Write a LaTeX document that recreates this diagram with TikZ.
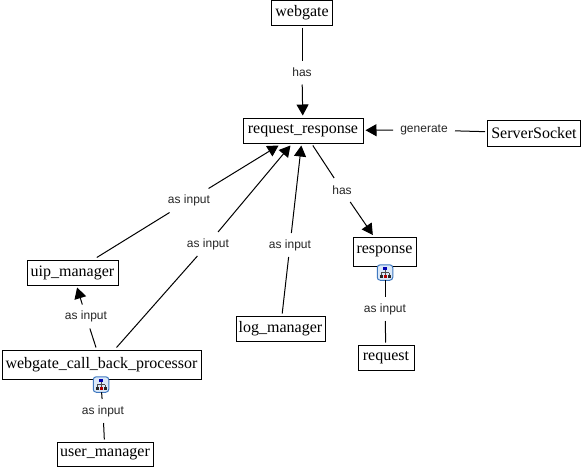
\documentclass[tikz,border=0pt]{standalone}
\usepackage{fontspec}
\setmainfont{Liberation Serif}
\newfontfamily\lblfont{Liberation Sans}
\usetikzlibrary{arrows.meta}
\definecolor{iconedge}{HTML}{3F78C0}
\definecolor{iconfill}{HTML}{DCE9F8}
\tikzset{
 x=1pt,y=-1pt,
 box/.style={draw=black,line width=1pt,fill=white,inner sep=0pt,outer sep=2.5pt,font=\fontsize{16}{18}\selectfont,anchor=center},
 lbl/.style={inner sep=0pt,outer sep=0pt,minimum height=24pt,minimum width=46pt,font=\lblfont\fontsize{12}{14}\selectfont,text=black!85},
 conn/.style={draw=black,line width=1pt},
 arr/.style={conn,-{Triangle[length=11pt,width=12pt]}},
 iconbox/.style={draw=iconedge,fill=iconfill,line width=1pt,rounded corners=3pt,minimum size=15.5pt,inner sep=0pt,outer sep=0pt}
}
\newcommand{\boxnode}[6]{\node[box,minimum width=#4pt,minimum height=#5pt] (#1) at (#2,#3) {\raisebox{-1pt}{#6}};}
\newcommand{\treeicon}[1]{%
 \draw[line width=0.6pt,black!70] (#1.center)++(0,-3) -- ++(0,3) (#1.center)++(-4,0) -- ++(8,0) (#1.center)++(-4,0) -- ++(0,2) (#1.center)++(4,0) -- ++(0,2) (#1.center)++(0,0) -- ++(0,2);
 \fill[blue!70!black] (#1.center)++(-2,-5.5) rectangle ++(4,2.5);
 \fill[red!70!black] (#1.center)++(-1.5,2) rectangle ++(3,3);
 \fill[black!85] (#1.center)++(-5.5,2) rectangle ++(3,3);
 \fill[black!85] (#1.center)++(2.5,2) rectangle ++(3,3);
}
\begin{document}
\begin{tikzpicture}
\useasboundingbox (0,0) rectangle (584,469);
\fill[white] (0,0) rectangle (584,469);
\boxnode{webgate}{302}{12.5}{61}{25}{webgate}
\boxnode{rr}{303}{130.5}{120}{25}{request\_response}
\boxnode{ss}{534}{133}{93}{26}{ServerSocket}
\boxnode{resp}{384.5}{252}{63}{29}{\raisebox{4pt}{response}}
\boxnode{uip}{72.5}{272.5}{91}{25}{uip\_manager}
\boxnode{wcbp}{101.5}{364.5}{199}{29}{webgate\_call\_back\_processor}
\boxnode{um}{105}{454}{96}{24}{user\_manager}
\boxnode{log}{280.5}{328.5}{89}{25}{log\_manager}
\boxnode{req}{386}{357.5}{56}{25}{request}
\node[iconbox] (icona) at (385,272.5) {};
\node[iconbox] (iconb) at (101,384.5) {};
\treeicon{icona}
\treeicon{iconb}
\node[lbl] (l1) at (302,72.5) {has};
\node[lbl,minimum width=62pt] (l2) at (424,130) {generate};
\node[lbl] (l3) at (189,200.5) {as input};
\node[lbl] (l4) at (208,244) {as input};
\node[lbl] (l5) at (290,245) {as input};
\node[lbl] (l6) at (342,190) {has};
\node[lbl] (l7) at (86,316.5) {as input};
\node[lbl] (l8) at (385,309) {as input};
\node[lbl] (l9) at (103,411) {as input};
\draw[conn] (webgate) -- (l1);
\draw[arr] (l1) -- (rr);
\draw[conn] (ss) -- (l2);
\draw[arr] (l2) -- (rr);
\draw[conn] (uip) -- (l3);
\draw[arr] (l3) -- (rr);
\draw[conn] (wcbp) -- (l4);
\draw[arr] (l4) -- (rr);
\draw[conn] (log) -- (l5);
\draw[arr] (l5) -- (rr);
\draw[conn] (rr) -- (l6);
\draw[arr] (l6) -- (resp);
\draw[conn] (wcbp) -- (l7);
\draw[arr] (l7) -- (uip);
\draw[conn] (icona) -- (l8);
\draw[conn] (l8) -- (req);
\draw[conn] (iconb) -- (l9);
\draw[conn] (l9) -- (um);
\end{tikzpicture}
\end{document}
